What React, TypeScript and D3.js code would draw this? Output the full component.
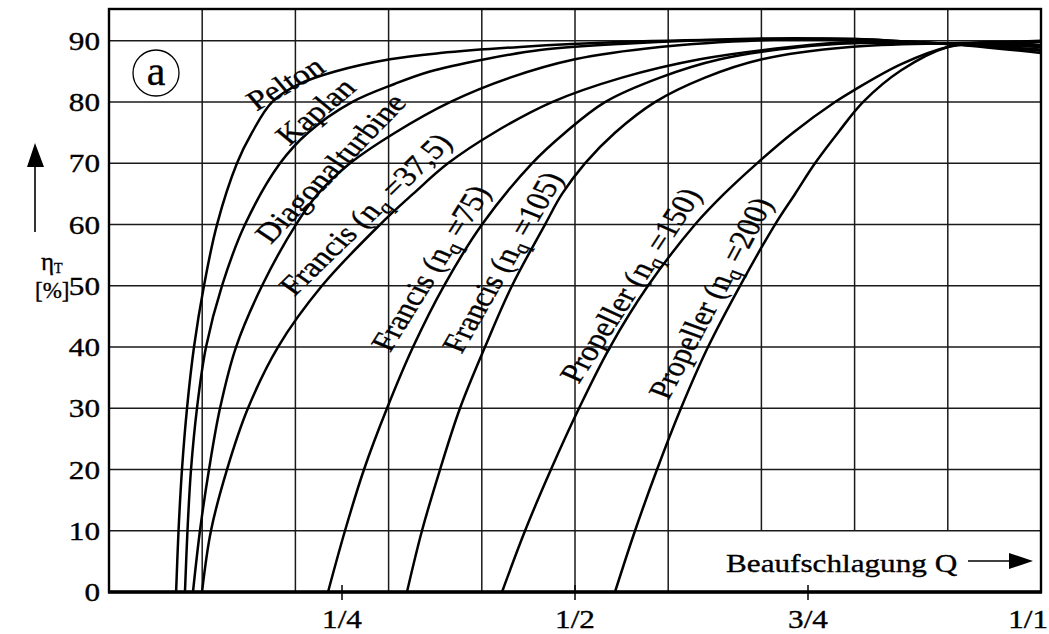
import React, { useEffect, useRef } from "react";
import * as d3 from "d3";

const WIDTH = 1049;
const HEIGHT = 634;

// efficiency curves: [Beaufschlagung Q, eta_T in %]
const pelton = [[0.072, 0], [0.0746, 10], [0.0783, 20], [0.0837, 30], [0.0912, 40], [0.1019, 50], [0.1159, 60], [0.1373, 70], [0.1534, 75], [0.1749, 80], [0.2049, 83], [0.2425, 85], [0.3015, 87], [0.3552, 88], [0.441, 89], [0.548, 89.8], [0.7, 90.2], [0.8, 90.1], [0.9, 89.5], [1, 88]];
const kaplan = [[0.0815, 0], [0.0842, 10], [0.088, 20], [0.0944, 30], [0.1041, 40], [0.1212, 50], [0.1459, 60], [0.1835, 70], [0.2135, 75], [0.2607, 80], [0.3069, 83], [0.3444, 85], [0.4034, 87], [0.4624, 88.5], [0.548, 89.5], [0.7, 90.4], [0.8, 90.3], [0.9, 89.5], [1, 88.6]];
const diagonal = [[0.0901, 0], [0.0976, 10], [0.1073, 20], [0.1191, 30], [0.1363, 40], [0.1642, 50], [0.2006, 60], [0.2242, 65], [0.2586, 70], [0.3069, 75], [0.3659, 80], [0.4303, 84], [0.5, 87], [0.591, 89], [0.7, 90.1], [0.8, 90.3], [0.9, 89.5], [1, 89]];
const francis375 = [[0.0998, 0], [0.1094, 10], [0.1266, 20], [0.1491, 30], [0.1813, 40], [0.2285, 50], [0.2908, 60], [0.3262, 65], [0.3637, 70], [0.4131, 75], [0.4753, 80], [0.5504, 84], [0.634, 87], [0.731, 89], [0.8, 89.8], [0.9, 89.5], [1, 88.4]];
const francis75 = [[0.235, 0], [0.2532, 10], [0.2736, 20], [0.2983, 30], [0.3262, 40], [0.3594, 50], [0.4002, 60], [0.4539, 70], [0.4893, 75], [0.5322, 80], [0.5912, 84], [0.6556, 87], [0.7414, 89], [0.8, 89.6], [0.9, 89.6], [1, 89.3]];
const francis105 = [[0.3197, 0], [0.3358, 10], [0.3552, 20], [0.3766, 30], [0.4034, 40], [0.4324, 50], [0.4678, 60], [0.4861, 65], [0.5107, 70], [0.5429, 75], [0.5858, 80], [0.6395, 84], [0.7006, 87], [0.795, 89], [0.9, 89.6], [1, 89.8]];
const propeller150 = [[0.4217, 0], [0.4464, 10], [0.4742, 20], [0.5043, 30], [0.5376, 40], [0.5783, 50], [0.6288, 60], [0.6599, 65], [0.6953, 70], [0.7339, 75], [0.779, 80], [0.8, 82], [0.85, 86.2], [0.9, 89], [0.95, 89.7], [1, 90]];
const propeller200 = [[0.5429, 0], [0.5644, 10], [0.588, 20], [0.6137, 30], [0.6427, 40], [0.6771, 50], [0.7146, 60], [0.7361, 65], [0.7575, 70], [0.7822, 75], [0.809, 80], [0.85, 85.2], [0.9, 89], [0.95, 89.8], [1, 89.3]];

const curves = [pelton, kaplan, diagonal, francis375, francis75, francis105, propeller150, propeller200];
const curveTypes = ["Pelton", "Kaplan", "Diagonalturbine", "Francis", "Francis", "Francis", "Propeller", "Propeller"];
const curveNq = ["", "", "", "37,5", "75", "105", "150", "200"];

const yTicks = [0, 10, 20, 30, 40, 50, 60, 70, 80, 90];
const xGrid = [0.1, 0.2, 0.3, 0.4, 0.5, 0.6, 0.7, 0.8, 0.9];
const xTickValues = [0.25, 0.5, 0.75, 1];
const xTickLabels = ["1/4", "1/2", "3/4", "1/1"];

// where the curve names sit (centre, visual angle)
const labelLayout = [
  { cx: 285, cy: 83, ang: -30 },
  { cx: 315, cy: 111, ang: -40 },
  { cx: 330, cy: 168, ang: -46 },
  { cx: 365, cy: 214, ang: -44 },
  { cx: 430, cy: 268, ang: -58 },
  { cx: 502, cy: 262, ang: -60 },
  { cx: 630, cy: 285, ang: -57 },
  { cx: 710, cy: 298, ang: -62 },
];

const FONT = "'Liberation Serif', 'Times New Roman', serif";
const SX = 1.2; // the lettering in the scan is a bit wide

const place = (cx: number, cy: number, deg = 0) => {
  const a = (Math.atan(SX * Math.tan((deg * Math.PI) / 180)) * 180) / Math.PI;
  return `translate(${cx},${cy}) scale(${SX},1) rotate(${a})`;
};

const App = () => {
  const ref = useRef<SVGSVGElement>(null);

  useEffect(() => {
    const svg = d3.select(ref.current);
    svg.selectAll("*").remove();

    const x = d3.scaleLinear().domain([0, 1]).range([109, 1041]);
    const y = d3.scaleLinear().domain([0, 95.2]).range([592, 9]);

    svg.append("rect").attr("width", WIDTH).attr("height", HEIGHT).attr("fill", "#fff");

    // grid
    const grid = svg.append("g").attr("stroke", "#1a1a1a").attr("stroke-width", 1.5);
    grid
      .selectAll("line.h")
      .data(yTicks.slice(1))
      .join("line")
      .attr("class", "h")
      .attr("x1", x(0))
      .attr("x2", x(1))
      .attr("y1", (d) => y(d))
      .attr("y2", (d) => y(d));
    grid
      .selectAll("line.v")
      .data(xGrid)
      .join("line")
      .attr("class", "v")
      .attr("x1", (d) => x(d))
      .attr("x2", (d) => x(d))
      .attr("y1", y.range()[1])
      .attr("y2", (d) => (d > 0.65 ? y(10) : y(0))); // space for the axis title

    // frame
    svg
      .append("rect")
      .attr("x", x(0))
      .attr("y", y.range()[1])
      .attr("width", x(1) - x(0))
      .attr("height", y(0) - y.range()[1])
      .attr("fill", "none")
      .attr("stroke", "#000")
      .attr("stroke-width", 2.4);
    svg
      .append("line")
      .attr("x1", x(0) - 1)
      .attr("x2", x(1) + 1)
      .attr("y1", y(0))
      .attr("y2", y(0))
      .attr("stroke", "#000")
      .attr("stroke-width", 3.4);

    // x ticks
    svg
      .selectAll("line.xt")
      .data(xTickValues.filter((d) => d < 1))
      .join("line")
      .attr("class", "xt")
      .attr("x1", (d) => x(d))
      .attr("x2", (d) => x(d))
      .attr("y1", y(0) - 7)
      .attr("y2", y(0) + 8)
      .attr("stroke", "#000")
      .attr("stroke-width", 1.5);

    // scanned lettering is a little heavy
    const txt = svg
      .append("g")
      .attr("font-family", FONT)
      .attr("fill", "#000")
      .attr("stroke", "#000")
      .attr("stroke-width", 0.35);

    txt
      .selectAll("text.xl")
      .data(xTickValues)
      .join("text")
      .attr("class", "xl")
      .attr("text-anchor", (d) => (d === 1 ? "end" : "middle"))
      .attr("font-size", 26)
      .attr("transform", (d) => place(d === 1 ? 1048 : x(d), 628))
      .text((d, i) => xTickLabels[i]);

    txt
      .selectAll("text.yl")
      .data(yTicks)
      .join("text")
      .attr("class", "yl")
      .attr("text-anchor", "end")
      .attr("font-size", 26)
      .attr("transform", (d) => place(100, y(d) + 9))
      .text((d) => d);

    // curves
    const line = d3
      .line<number[]>()
      .x((d) => x(d[0]))
      .y((d) => y(d[1]))
      .curve(d3.curveCatmullRom.alpha(0.5));

    svg
      .append("g")
      .attr("fill", "none")
      .attr("stroke", "#000")
      .attr("stroke-width", 2.5)
      .attr("stroke-linejoin", "round")
      .selectAll("path")
      .data(curves)
      .join("path")
      .attr("d", (d) => line(d));

    // curve names
    curveTypes.forEach((name, i) => {
      const l = labelLayout[i];
      const t = txt
        .append("text")
        .attr("font-size", 28)
        .attr("text-anchor", "middle")
        .attr("transform", place(l.cx, l.cy, l.ang))
        .attr("dy", "0.35em");
      if (!curveNq[i]) {
        t.text(name);
        return;
      }
      t.append("tspan").text(`${name} (n`);
      t.append("tspan").attr("font-size", 19).attr("dy", 5).text("q");
      t.append("tspan").attr("dy", -5).text(` =${curveNq[i]})`);
    });

    // "a" marker
    svg
      .append("circle")
      .attr("cx", 156)
      .attr("cy", 73)
      .attr("r", 23)
      .attr("fill", "none")
      .attr("stroke", "#000")
      .attr("stroke-width", 1.3);
    txt
      .append("text")
      .attr("x", 156)
      .attr("y", 85)
      .attr("text-anchor", "middle")
      .attr("font-size", 42)
      .text("a");

    // y axis title with arrow
    svg.append("line").attr("x1", 35).attr("x2", 35).attr("y1", 232).attr("y2", 160).attr("stroke", "#000").attr("stroke-width", 1.6);
    svg.append("path").attr("d", "M35,143 L27,167 L44,167 Z").attr("fill", "#000");
    const eta = txt.append("text").attr("font-size", 25).attr("x", 41).attr("y", 270);
    eta.append("tspan").text("η");
    eta.append("tspan").attr("font-size", 14).attr("dy", 3).text("T");
    txt.append("text").attr("font-size", 23).attr("x", 35).attr("y", 298).text("[%]");

    // x axis title with arrow
    txt.append("text").attr("font-size", 26).attr("transform", place(726, 572)).text("Beaufschlagung Q");
    svg.append("line").attr("x1", 968).attr("x2", 1012).attr("y1", 561).attr("y2", 561).attr("stroke", "#000").attr("stroke-width", 1.6);
    svg.append("path").attr("d", "M1033,561 L1009,553 L1009,569 Z").attr("fill", "#000");
  }, []);

  return (
    <svg
      ref={ref}
      width={WIDTH}
      height={HEIGHT}
      style={{ position: "absolute", left: 0, top: 0, display: "block" }}
    />
  );
};

export default App;
